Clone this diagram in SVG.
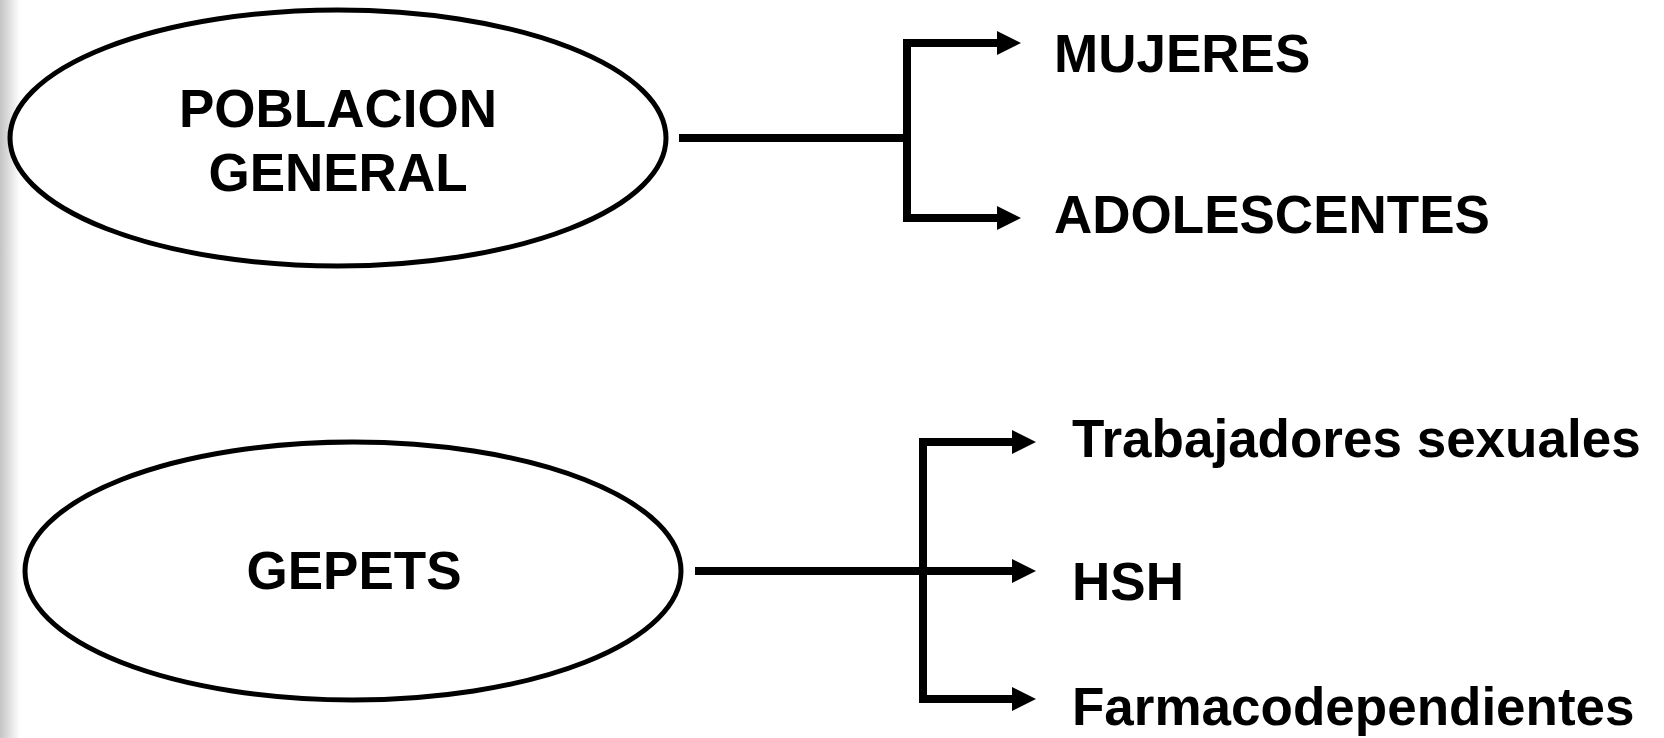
<svg xmlns="http://www.w3.org/2000/svg" width="1664" height="738" viewBox="0 0 1664 738">
<defs>
<linearGradient id="edge" x1="0" y1="0" x2="1" y2="0">
<stop offset="0" stop-color="#c4c4c4"/>
<stop offset="1" stop-color="#ffffff"/>
</linearGradient>
<marker id="ah" markerUnits="userSpaceOnUse" markerWidth="24" markerHeight="24" refX="0" refY="11" orient="auto" viewBox="0 0 22 22">
<path d="M0,0 L22,11 L0,22 Z" fill="#000"/>
</marker>
<style>
.node{fill:#fff;stroke:#000;stroke-width:5}
.lbl{font-family:"Liberation Sans",Arial,sans-serif;font-weight:bold;font-size:53px;fill:#000}
.c{text-anchor:middle}
.con{fill:none;stroke:#000;stroke-width:8;stroke-linecap:butt;stroke-linejoin:miter}
.arr{marker-end:url(#ah)}
</style>
</defs>
<rect x="0" y="0" width="1664" height="738" fill="#fff"/>
<rect x="0" y="0" width="20" height="738" fill="url(#edge)"/>

<g id="node-poblacion">
<ellipse class="node" cx="338" cy="138" rx="328" ry="128"/>
<text class="lbl c" x="338" y="127">POBLACION</text>
<text class="lbl c" x="338" y="191">GENERAL</text>
</g>
<g id="node-gepets">
<ellipse class="node" cx="353" cy="571" rx="328" ry="129"/>
<text class="lbl c" x="354" y="589">GEPETS</text>
</g>
<g id="node-mujeres"><text class="lbl" x="1054" y="72">MUJERES</text></g>
<g id="node-adolescentes"><text class="lbl" x="1054" y="233">ADOLESCENTES</text></g>
<g id="node-trabajadores"><text class="lbl" x="1072" y="457">Trabajadores sexuales</text></g>
<g id="node-hsh"><text class="lbl" x="1072" y="600">HSH</text></g>
<g id="node-farmaco"><text class="lbl" x="1072" y="725">Farmacodependientes</text></g>

<g id="connectors">
<path class="con" d="M679,138 H907"/>
<path class="con" d="M907,39 V222"/>
<path class="con arr" d="M903,43 H997"/>
<path class="con arr" d="M903,218 H997"/>
<path class="con" d="M695,571 H923"/>
<path class="con" d="M923,438 V703"/>
<path class="con arr" d="M919,442 H1012"/>
<path class="con arr" d="M923,571 H1012"/>
<path class="con arr" d="M919,699 H1012"/>
</g>
</svg>
